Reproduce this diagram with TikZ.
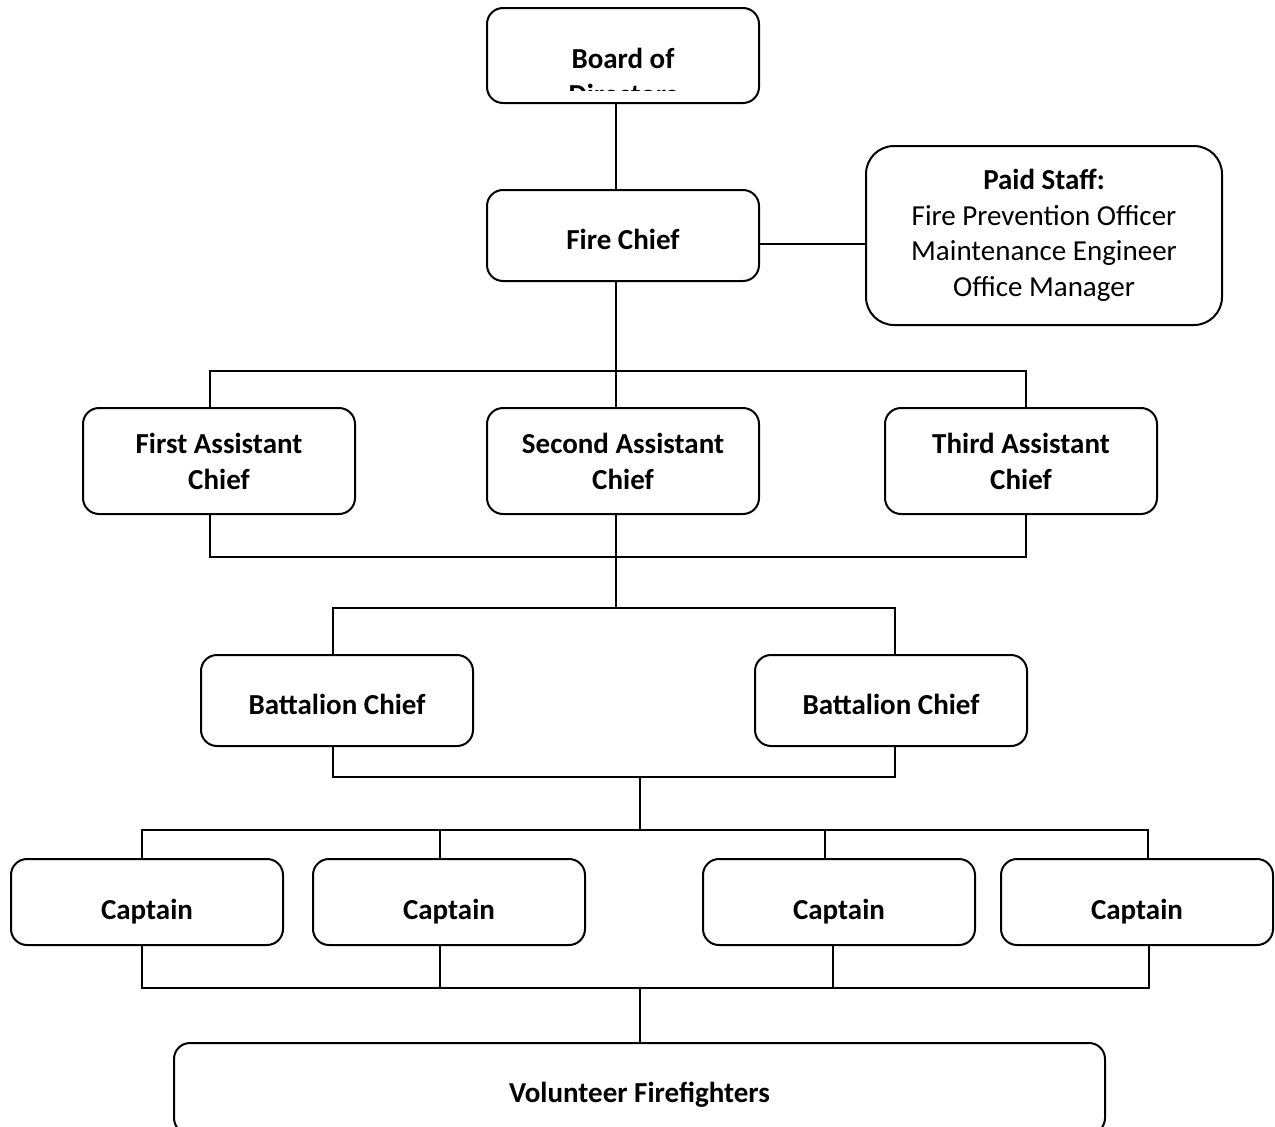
\documentclass[tikz,border=0pt]{standalone}
\usepackage{fontspec}
\setmainfont{Carlito}
\tikzset{
  orgbox/.style={draw, line width=2pt, rounded corners=16pt, inner sep=0pt,
    align=center, font=\fontsize{29}{36}\selectfont\bfseries},
  wide/.style={minimum width=272pt, minimum height=#1},
  wide/.default=91pt,
  oneline/.style={text height=27pt, text depth=0pt},
  capbox/.style={orgbox, wide=86pt, text height=35pt, text depth=0pt},
  link/.style={line width=2pt}
}
\begin{document}
\begin{tikzpicture}[x=1pt,y=-1pt]
      \clip (0,0) rectangle (1275,1127);
      \fill[white] (0,0) rectangle (1275,1127);
      % boxes
      \node[orgbox, wide=95pt] (board) at (623,55.5) {};
      \begin{scope}
        \clip (487,8) rectangle (759,90);
        \node[align=center, font=\fontsize{29}{36}\selectfont\bfseries] (boardtext) at (623,76) {Board of\\Directors};
      \end{scope}
      \node[orgbox, wide, oneline] (chief) at (623,235.5) {Fire Chief};
      \node[orgbox, rounded corners=28pt, minimum width=356pt, minimum height=179pt, font=\fontsize{29}{35.5}\selectfont] (paid) at (1044,235.5)
        {\textbf{Paid Staff:}\\Fire Prevention Officer\\Maintenance Engineer\\Office Manager};
      \node[orgbox, wide=106pt] (first) at (219,461) {First Assistant\\Chief};
      \node[orgbox, wide=106pt] (second) at (623,461) {Second Assistant\\Chief};
      \node[orgbox, wide=106pt] (third) at (1021,461) {Third Assistant\\Chief};
      \node[orgbox, wide, oneline] (bat1) at (337,700.5) {Battalion Chief};
      \node[orgbox, wide, oneline] (bat2) at (891,700.5) {Battalion Chief};
      \node[capbox] (cap1) at (147,902) {Captain};
      \node[capbox] (cap2) at (449,902) {Captain};
      \node[capbox] (cap3) at (839,902) {Captain};
      \node[capbox] (cap4) at (1137,902) {Captain};
      \node[orgbox, oneline, minimum width=931pt, minimum height=91pt] (vol) at (639.5,1088.5) {Volunteer Firefighters};
      % bus corners
      \coordinate (a1) at (210,371);
      \coordinate (a2) at (615.5,371);
      \coordinate (a3) at (1026,371);
      \coordinate (b1) at (210,556.5);
      \coordinate (b2) at (615.5,556.5);
      \coordinate (b3) at (1026,556.5);
      \coordinate (c1) at (333,607.5);
      \coordinate (c2) at (615.5,607.5);
      \coordinate (c3) at (895,607.5);
      \coordinate (d1) at (333,777);
      \coordinate (d2) at (640,777);
      \coordinate (d3) at (895,777);
      \coordinate (e1) at (142,829.5);
      \coordinate (e2) at (440,829.5);
      \coordinate (e3) at (640,829.5);
      \coordinate (e4) at (825,829.5);
      \coordinate (e5) at (1148,829.5);
      \coordinate (f1) at (142,988);
      \coordinate (f2) at (440,988);
      \coordinate (f3) at (640,988);
      \coordinate (f4) at (833,988);
      \coordinate (f5) at (1149,988);
      \coordinate (k) at (0,244);
      \begin{scope}[link]
        \draw (board.south -| a2) to (chief.north -| a2);
        \draw (chief.east |- k) to (paid.west |- k);
        \draw (chief.south -| a2) to (second.north -| a2);
        \draw (first.north -| a1) -- (a1) -- (a3) -- (third.north -| a3);
        \draw (first.south -| b1) -- (b1) -- (b3) -- (third.south -| b3);
        \draw (second.south -| b2) to (c2);
        \draw (bat1.north -| c1) -- (c1) -- (c3) -- (bat2.north -| c3);
        \draw (bat1.south -| d1) -- (d1) -- (d3) -- (bat2.south -| d3);
        \draw (d2) to (e3);
        \draw (cap1.north -| e1) -- (e1) -- (e5) -- (cap4.north -| e5);
        \draw (cap2.north -| e2) to (e2);
        \draw (cap3.north -| e4) to (e4);
        \draw (cap1.south -| f1) -- (f1) -- (f5) -- (cap4.south -| f5);
        \draw (cap2.south -| f2) to (f2);
        \draw (cap3.south -| f4) to (f4);
        \draw (f3) to (vol.north -| f3);
      \end{scope}
    \end{tikzpicture}
\end{document}
